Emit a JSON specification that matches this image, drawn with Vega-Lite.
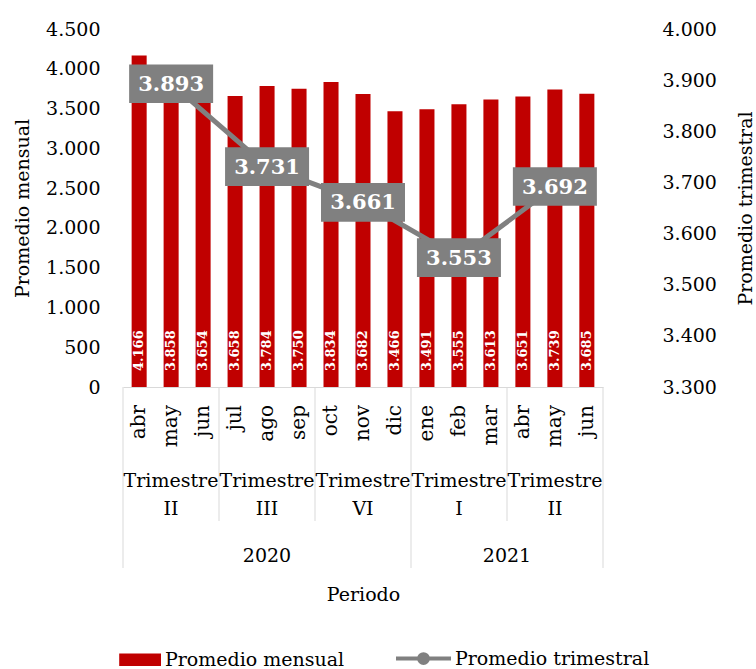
{
  "$schema": "https://vega.github.io/schema/vega-lite/v6.json",
  "padding": {"left": 13, "top": 20, "right": 0, "bottom": 0},
  "config": {
    "font": "DejaVu Serif",
    "view": {"stroke": null},
    "locale": {"number": {"decimal": ",", "thousands": ".", "grouping": [3], "currency": ["$", ""]}},
    "axis": {"grid": false, "labelFont": "DejaVu Serif", "titleFont": "DejaVu Serif", "labelFontSize": 19, "titleFontSize": 19, "labelColor": "#000", "titleColor": "#000", "titleFontWeight": "normal", "labelOverlap": false},
    "text": {"font": "DejaVu Serif"}
  },
  "datasets": {
    "meses": [
      {"mes": "2020-04", "nombre": "abr", "valor": 4166, "serie": "Promedio mensual", "inicio_trim": true, "inicio_anio": true, "cierre": false},
      {"mes": "2020-05", "nombre": "may", "valor": 3858, "serie": "Promedio mensual", "inicio_trim": false, "inicio_anio": false, "cierre": false},
      {"mes": "2020-06", "nombre": "jun", "valor": 3654, "serie": "Promedio mensual", "inicio_trim": false, "inicio_anio": false, "cierre": false},
      {"mes": "2020-07", "nombre": "jul", "valor": 3658, "serie": "Promedio mensual", "inicio_trim": true, "inicio_anio": false, "cierre": false},
      {"mes": "2020-08", "nombre": "ago", "valor": 3784, "serie": "Promedio mensual", "inicio_trim": false, "inicio_anio": false, "cierre": false},
      {"mes": "2020-09", "nombre": "sep", "valor": 3750, "serie": "Promedio mensual", "inicio_trim": false, "inicio_anio": false, "cierre": false},
      {"mes": "2020-10", "nombre": "oct", "valor": 3834, "serie": "Promedio mensual", "inicio_trim": true, "inicio_anio": false, "cierre": false},
      {"mes": "2020-11", "nombre": "nov", "valor": 3682, "serie": "Promedio mensual", "inicio_trim": false, "inicio_anio": false, "cierre": false},
      {"mes": "2020-12", "nombre": "dic", "valor": 3466, "serie": "Promedio mensual", "inicio_trim": false, "inicio_anio": false, "cierre": false},
      {"mes": "2021-01", "nombre": "ene", "valor": 3491, "serie": "Promedio mensual", "inicio_trim": true, "inicio_anio": true, "cierre": false},
      {"mes": "2021-02", "nombre": "feb", "valor": 3555, "serie": "Promedio mensual", "inicio_trim": false, "inicio_anio": false, "cierre": false},
      {"mes": "2021-03", "nombre": "mar", "valor": 3613, "serie": "Promedio mensual", "inicio_trim": false, "inicio_anio": false, "cierre": false},
      {"mes": "2021-04", "nombre": "abr", "valor": 3651, "serie": "Promedio mensual", "inicio_trim": true, "inicio_anio": false, "cierre": false},
      {"mes": "2021-05", "nombre": "may", "valor": 3739, "serie": "Promedio mensual", "inicio_trim": false, "inicio_anio": false, "cierre": false},
      {"mes": "2021-06", "nombre": "jun", "valor": 3685, "serie": "Promedio mensual", "inicio_trim": false, "inicio_anio": false, "cierre": true}
    ],
    "trimestres": [
      {"mes": "2020-05", "etiqueta": "Trimestre\nII", "valor": 3893, "serie": "Promedio trimestral"},
      {"mes": "2020-08", "etiqueta": "Trimestre\nIII", "valor": 3731, "serie": "Promedio trimestral"},
      {"mes": "2020-11", "etiqueta": "Trimestre\nVI", "valor": 3661, "serie": "Promedio trimestral"},
      {"mes": "2021-02", "etiqueta": "Trimestre\nI", "valor": 3553, "serie": "Promedio trimestral"},
      {"mes": "2021-05", "etiqueta": "Trimestre\nII", "valor": 3692, "serie": "Promedio trimestral"}
    ],
    "anios": [
      {"anio": "2020", "mes": "2020-08", "centro": "banda"},
      {"anio": "2021", "mes": "2021-03", "centro": "borde"}
    ]
  },
  "spacing": 0,
  "bounds": "flush",
  "resolve": {"scale": {"x": "independent"}},
  "vconcat": [
    {
      "width": 480,
      "height": 358,
      "resolve": {"scale": {"y": "independent"}},
      "layer": [
        {
          "layer": [
            {
              "data": {"name": "meses"},
              "mark": {"type": "bar"},
              "encoding": {
                "x": {"field": "mes", "type": "nominal", "sort": null,
                  "scale": {"domain": ["2020-04","2020-05","2020-06","2020-07","2020-08","2020-09","2020-10","2020-11","2020-12","2021-01","2021-02","2021-03","2021-04","2021-05","2021-06"], "paddingInner": 0.53, "paddingOuter": 0.27},
                  "axis": {"labels": false, "ticks": false, "title": null, "domainColor": "#d9d9d9"}},
                "y": {"field": "valor", "type": "quantitative", "scale": {"domain": [0, 4500]},
                  "axis": {"orient": "left", "values": [0,500,1000,1500,2000,2500,3000,3500,4000,4500], "tickCount": 10, "labelOverlap": false, "labelBound": false, "format": ",.0f", "domain": false, "ticks": false, "labelPadding": 23, "title": "Promedio mensual", "titlePadding": 13}},
                "color": {"field": "serie", "type": "nominal",
                  "scale": {"domain": ["Promedio mensual", "Promedio trimestral"], "range": ["#c00000", "#808080"]},
                  "legend": {"orient": "none", "legendX": 1, "legendY": 620, "direction": "horizontal", "title": null, "padding": 0,
                    "symbolSize": 3025, "labelFontSize": 19, "labelFont": "DejaVu Serif", "labelColor": "#000", "labelOffset": 22, "columnPadding": 43, "labelLimit": 300,
                    "encode": {"symbols": {"update": {
                      "shape": {"signal": "datum.value === 'Promedio mensual' ? 'M-0.52,-0.23H1V0.23H-0.52Z' : 'M-1,0H1M0.16,0A0.16,0.16 0 1,1 -0.16,0A0.16,0.16 0 1,1 0.16,0Z'"},
                      "fill": {"scale": "color", "field": "value"},
                      "stroke": {"scale": "color", "field": "value"},
                      "strokeWidth": {"signal": "datum.value === 'Promedio mensual' ? 0 : 4"},
                      "opacity": {"value": 1}
                    }}}}}
              }
            },
            {
              "data": {"name": "meses"},
              "mark": {"type": "text", "angle": 270, "align": "left", "baseline": "middle", "dx": 16, "fontSize": 13, "fontWeight": "bold", "color": "white"},
              "encoding": {
                "x": {"field": "mes", "type": "nominal", "sort": null},
                "y": {"datum": 0, "type": "quantitative"},
                "text": {"field": "valor", "type": "quantitative", "format": ",.0f"}
              }
            }
          ]
        },
        {
          "layer": [
            {
              "data": {"name": "trimestres"},
              "mark": {"type": "line", "strokeWidth": 5},
              "encoding": {
                "x": {"field": "mes", "type": "nominal", "sort": null},
                "y": {"field": "valor", "type": "quantitative", "scale": {"domain": [3300, 4000]},
                  "axis": {"orient": "right", "values": [3300,3400,3500,3600,3700,3800,3900,4000], "labelOverlap": false, "format": ",.0f", "domain": false, "ticks": false, "labelPadding": 59, "title": "Promedio trimestral", "titleAngle": 270, "titleAlign": "center", "titlePadding": 39}},
                "color": {"field": "serie", "type": "nominal"}
              }
            },
            {
              "data": {"name": "trimestres"},
              "mark": {"type": "point", "shape": "M-1,-0.46H1V0.46H-1Z", "filled": true, "size": 7056, "color": "#808080", "opacity": 1},
              "encoding": {
                "x": {"field": "mes", "type": "nominal", "sort": null},
                "y": {"field": "valor", "type": "quantitative"}
              }
            },
            {
              "data": {"name": "trimestres"},
              "mark": {"type": "text", "fontSize": 21, "fontWeight": "bold", "color": "white", "baseline": "middle", "align": "center", "dy": 1},
              "encoding": {
                "x": {"field": "mes", "type": "nominal", "sort": null},
                "y": {"field": "valor", "type": "quantitative"},
                "text": {"field": "valor", "type": "quantitative", "format": ",.0f"}
              }
            }
          ]
        }
      ]
    },
    {
      "width": 480,
      "height": 70,
      "data": {"name": "meses"},
      "layer": [
        {
          "transform": [{"filter": "datum.inicio_trim"}],
          "mark": {"type": "rule", "color": "#d9d9d9", "strokeWidth": 1},
          "encoding": {"x": {"field": "mes", "type": "nominal", "bandPosition": 0,
            "scale": {"domain": ["2020-04","2020-05","2020-06","2020-07","2020-08","2020-09","2020-10","2020-11","2020-12","2021-01","2021-02","2021-03","2021-04","2021-05","2021-06"], "paddingInner": 0, "paddingOuter": 0}, "axis": null}}
        },
        {
          "transform": [{"filter": "datum.cierre"}],
          "mark": {"type": "rule", "color": "#d9d9d9", "strokeWidth": 1},
          "encoding": {"x": {"field": "mes", "type": "nominal", "bandPosition": 1, "axis": null}}
        },
        {
          "mark": {"type": "text", "angle": 270, "align": "right", "baseline": "middle", "dx": 17, "fontSize": 20, "color": "#000"},
          "encoding": {"x": {"field": "mes", "type": "nominal", "axis": null}, "text": {"field": "nombre"}}
        }
      ]
    },
    {
      "width": 480,
      "height": 64,
      "layer": [
        {
          "data": {"name": "meses"},
          "transform": [{"filter": "datum.inicio_trim"}],
          "mark": {"type": "rule", "color": "#d9d9d9", "strokeWidth": 1},
          "encoding": {"x": {"field": "mes", "type": "nominal", "bandPosition": 0,
            "scale": {"domain": ["2020-04","2020-05","2020-06","2020-07","2020-08","2020-09","2020-10","2020-11","2020-12","2021-01","2021-02","2021-03","2021-04","2021-05","2021-06"], "paddingInner": 0, "paddingOuter": 0}, "axis": null}}
        },
        {
          "data": {"name": "meses"},
          "transform": [{"filter": "datum.cierre"}],
          "mark": {"type": "rule", "color": "#d9d9d9", "strokeWidth": 1},
          "encoding": {"x": {"field": "mes", "type": "nominal", "bandPosition": 1, "axis": null}}
        },
        {
          "data": {"name": "trimestres"},
          "mark": {"type": "text", "align": "center", "baseline": "middle", "lineBreak": "\n", "lineHeight": 28, "dy": -8, "fontSize": 19, "color": "#000"},
          "encoding": {"x": {"field": "mes", "type": "nominal", "axis": null}, "text": {"field": "etiqueta"}}
        }
      ]
    },
    {
      "width": 480,
      "height": 47,
      "layer": [
        {
          "data": {"name": "meses"},
          "transform": [{"filter": "datum.inicio_anio"}],
          "mark": {"type": "rule", "color": "#d9d9d9", "strokeWidth": 1},
          "encoding": {"x": {"field": "mes", "type": "nominal", "bandPosition": 0,
            "scale": {"domain": ["2020-04","2020-05","2020-06","2020-07","2020-08","2020-09","2020-10","2020-11","2020-12","2021-01","2021-02","2021-03","2021-04","2021-05","2021-06"], "paddingInner": 0, "paddingOuter": 0},
            "axis": {"labels": false, "ticks": false, "domain": false, "title": "Periodo", "titlePadding": 17}}}
        },
        {
          "data": {"name": "meses"},
          "transform": [{"filter": "datum.cierre"}],
          "mark": {"type": "rule", "color": "#d9d9d9", "strokeWidth": 1},
          "encoding": {"x": {"field": "mes", "type": "nominal", "bandPosition": 1}}
        },
        {
          "data": {"name": "anios"},
          "transform": [{"filter": "datum.centro === 'banda'"}],
          "mark": {"type": "text", "align": "center", "baseline": "middle", "dy": 11, "fontSize": 19, "color": "#000"},
          "encoding": {"x": {"field": "mes", "type": "nominal"}, "text": {"field": "anio"}}
        },
        {
          "data": {"name": "anios"},
          "transform": [{"filter": "datum.centro === 'borde'"}],
          "mark": {"type": "text", "align": "center", "baseline": "middle", "dy": 11, "fontSize": 19, "color": "#000"},
          "encoding": {"x": {"field": "mes", "type": "nominal", "bandPosition": 1}, "text": {"field": "anio"}}
        }
      ]
    }
  ]
}
